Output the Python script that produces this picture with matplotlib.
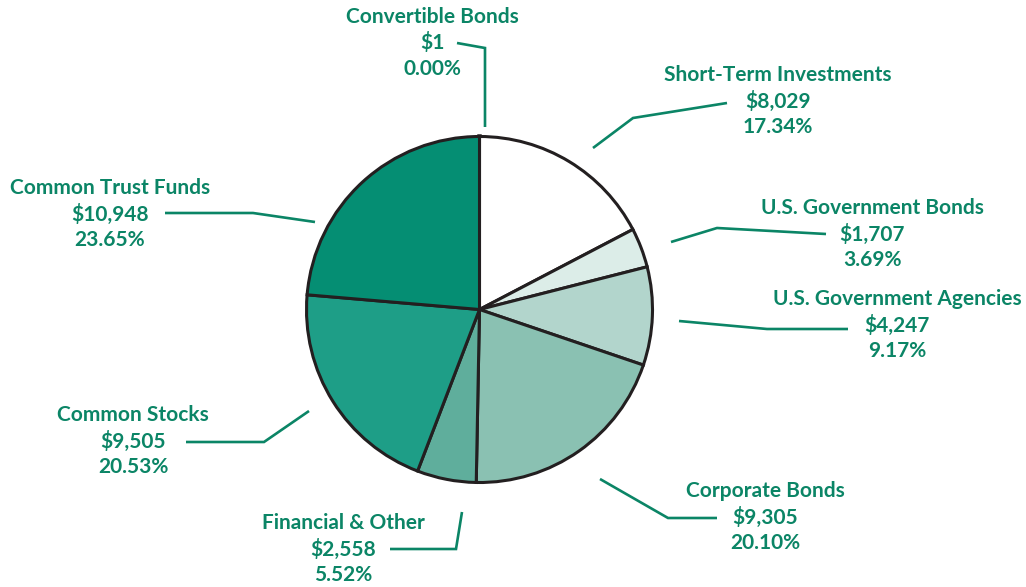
import matplotlib
matplotlib.use("Agg")
import matplotlib.pyplot as plt

categories = ["Convertible Bonds", "Short-Term Investments", "U.S. Government Bonds",
              "U.S. Government Agencies", "Corporate Bonds", "Financial & Other",
              "Common Stocks", "Common Trust Funds"]
values = [1, 8029, 1707, 4247, 9305, 2558, 9505, 10948]
amount_labels = ["$1", "$8,029", "$1,707", "$4,247", "$9,305", "$2,558", "$9,505", "$10,948"]
pct_labels = ["0.00%", "17.34%", "3.69%", "9.17%", "20.10%", "5.52%", "20.53%", "23.65%"]
colors = ["#068f74", "#ffffff", "#dcede8", "#b2d5cc", "#8ac1b2", "#5fae9c", "#1e9e87", "#058e73"]

W, H = 1026, 587
TXT = "#0b8566"

fig = plt.figure(figsize=(W / 100, H / 100), dpi=100)
ax = fig.add_axes([0, 0, 1, 1])

def Y(y):
    return H - y

cx, cy, r = 479.5, 309.5, 173
wedges, _ = ax.pie(values, colors=colors, startangle=90, counterclock=False,
                   center=(cx, Y(cy)), radius=r, frame=True,
                   wedgeprops=dict(edgecolor="#231f20", linewidth=2.2))
wedges[0].set_linewidth(3.2)
ax.set_xlim(0, W)
ax.set_ylim(0, H)
ax.set_aspect("equal")
ax.axis("off")

# label layout (pixel positions, center x and first-line y)
label_pos = [(432, 17), (778, 75), (872, 208), (897, 299),
             (765, 491), (343, 523), (133, 415), (110, 188)]
leaders = [
    [(457, 43), (485, 48), (485, 127)],
    [(593, 148), (633, 118), (727, 103)],
    [(671, 242), (717, 228), (826, 234)],
    [(679, 321), (767, 329), (848, 329)],
    [(600, 479), (668, 518), (717, 518)],
    [(462, 512), (456, 549), (390, 549)],
    [(309, 411), (264, 442), (186, 442)],
    [(165, 213), (253, 213), (315, 222)],
]

font = dict(family=["Lato", "DejaVu Sans"], fontweight="bold", color=TXT, fontsize=15)
for i in range(len(categories)):
    x, y0 = label_pos[i]
    for k, s in enumerate([categories[i], amount_labels[i], pct_labels[i]]):
        ax.text(x, Y(y0 + 26 * k), s, ha="center", va="center", **font)
    pts = leaders[i]
    ax.plot([p[0] for p in pts], [Y(p[1]) for p in pts], color=TXT, lw=1.9,
            solid_capstyle="butt", solid_joinstyle="miter")

fig.savefig("out.png", dpi=100)
